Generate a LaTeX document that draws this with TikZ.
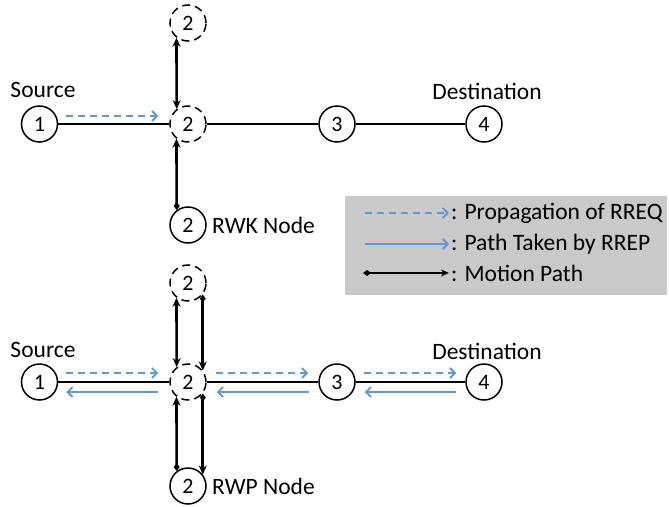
\documentclass[tikz,border=0pt]{standalone}
\usepackage{fontspec}
\setmainfont{Carlito}
\usetikzlibrary{arrows.meta,calc}
\definecolor{reqblue}{RGB}{98,152,210}
\definecolor{legendgray}{RGB}{201,201,201}
\tikzset{
  nd/.style={circle,draw,line width=1.5pt,minimum size=36pt,inner sep=0pt,font=\fontsize{22}{26}\selectfont},
  ghost/.style={nd,dash pattern=on 8pt off 5pt},
  lbl/.style={font=\fontsize{23.5}{28}\selectfont,inner sep=0pt},
  link/.style={line width=1.5pt},
  req/.style={draw=reqblue,line width=1.8pt,dash pattern=on 7pt off 5pt,-{Straight Barb[length=5pt,width=10pt]}},
  rep/.style={draw=reqblue,line width=1.8pt,-{Straight Barb[length=5pt,width=10pt]}},
  motionboth/.style={line width=2.6pt,{Stealth[length=9pt,width=8pt]}-{Stealth[length=9pt,width=8pt]}},
  motiondot/.style={line width=2.6pt,{Diamond[length=8pt,width=6pt]}-{Stealth[length=9pt,width=8pt]}},
}
\begin{document}
\begin{tikzpicture}[x=1pt,y=-1pt]
\useasboundingbox (0,0) rectangle (669,506);

% ---------- upper scenario: random walk ----------
\node[nd]    (a1) at (39.5,124) {1};
\node[ghost] (a2) at (188,124) {2};
\node[ghost] (a2t) at (188,23) {2};
\node[nd]    (a2b) at (188,225) {2};
\node[nd]    (a3) at (337,124) {3};
\node[nd]    (a4) at (484,124) {4};

\node[lbl] (asrc) at (43,90) {Source};
\node[lbl] (adst) at (487,91) {Destination};
\node[lbl,anchor=west] (arwk) at (212,225) {RWK Node};

\draw[link] (a1) -- (a2);
\draw[link] (a2) -- (a3);
\draw[link] (a3) -- (a4);

\draw[req] ([shift={(8,-8)}]a1.east) -- ([shift={(-11,-8)}]a2.west);

\draw[motionboth] (a2.127.7) -- (a2t.232.3);
\draw[motiondot] (a2b.127.7) -- (a2.232.3);

% ---------- legend ----------
\node[fill=legendgray,minimum width=322pt,minimum height=99pt,inner sep=0pt,anchor=north west] (leg) at (345,196) {};
\coordinate (k1a) at (365,213);
\coordinate (k1b) at (449,213);
\coordinate (k2a) at (365,244);
\coordinate (k2b) at (449,244);
\coordinate (k3a) at (363,273);
\coordinate (k3b) at (449,273);
\draw[req] (k1a) -- (k1b);
\draw[rep] (k2a) -- (k2b);
\draw[line width=2.2pt,{Diamond[length=8pt,width=6pt]}-{Stealth[length=8pt,width=7pt]}] (k3a) -- (k3b);
\node[lbl,anchor=west] (t1) at (451,213) {: Propagation of RREQ};
\node[lbl,anchor=west] (t2) at (451,244) {: Path Taken by RREP};
\node[lbl,anchor=west] (t3) at (451,273) {: Motion Path};

% ---------- lower scenario: random waypoint ----------
\node[nd]    (b1) at (39.5,382) {1};
\node[ghost] (b2) at (188,382) {2};
\node[ghost] (b2t) at (188,283) {2};
\node[nd]    (b2b) at (188,486) {2};
\node[nd]    (b3) at (337,382) {3};
\node[nd]    (b4) at (484,382) {4};

\node[lbl] (bsrc) at (43,350) {Source};
\node[lbl] (bdst) at (487,351) {Destination};
\node[lbl,anchor=west] (brwp) at (212,486) {RWP Node};

\draw[link] (b1) -- (b2);
\draw[link] (b2) -- (b3);
\draw[link] (b3) -- (b4);

\draw[req] ([shift={(8,-9)}]b1.east) -- ([shift={(-11,-9)}]b2.west);
\draw[rep] ([shift={(-11,10)}]b2.west) -- ([shift={(8,10)}]b1.east);
\draw[req] ([shift={(9,-9)}]b2.east) -- ([shift={(-10,-9)}]b3.west);
\draw[rep] ([shift={(-9,10)}]b3.west) -- ([shift={(10,10)}]b2.east);
\draw[req] ([shift={(8,-9)}]b3.east) -- ([shift={(-9,-9)}]b4.west);
\draw[rep] ([shift={(-9,10)}]b4.west) -- ([shift={(9,10)}]b3.east);

\draw[motionboth] (b2.127.7) -- (b2t.232.3);
\draw[motiondot] (b2t.-38.9) -- (b2.38.9);
\draw[motiondot] (b2b.127.7) -- (b2.232.3);
\draw[motiondot] (b2.-38.9) -- (b2b.38.9);
\end{tikzpicture}
\end{document}
